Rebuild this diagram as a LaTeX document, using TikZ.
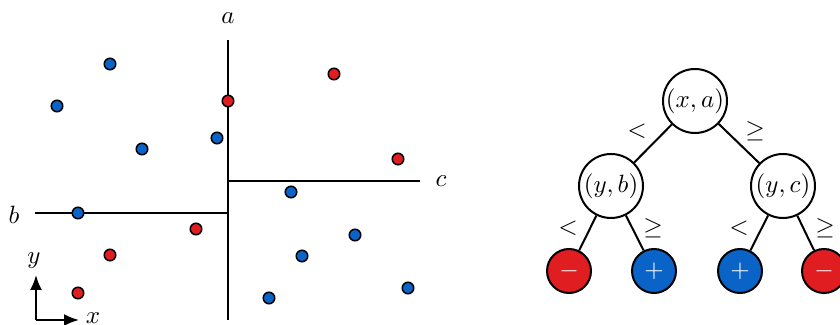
\documentclass[tikz,border=0pt]{standalone}
\usetikzlibrary{positioning, arrows.meta}

\definecolor{dotblue}{HTML}{0A64C8}
\definecolor{dotred}{HTML}{E01E22}

\begin{document}
\begin{tikzpicture}[
    x=0.4pt, y=-0.4pt,
    dot/.style={circle, draw, line width=0.6pt, inner sep=0pt, minimum size=4.6pt},
    bluedot/.style={dot, fill=dotblue},
    reddot/.style={dot, fill=dotred},
    split/.style={line width=0.8pt},
    axis/.style={-{Latex[length=6pt, width=4.8pt]}, line width=0.8pt},
    test/.style={circle, draw, line width=0.8pt, inner sep=0pt, minimum size=25.6pt, fill=white},
    leaf/.style={circle, draw, line width=0.8pt, inner sep=0pt, minimum size=17.6pt, text=white},
    branch/.style={line width=0.8pt}
]
\useasboundingbox (0,0) rectangle (840,325);

% Splitting lines
\coordinate (atop) at (228,40);
\coordinate (abot) at (228,320);
\coordinate (bleft) at (35,213);
\coordinate (bright) at (228,213);
\coordinate (cleft) at (228,181);
\coordinate (cright) at (420,181);
\draw[split] (atop) -- (abot);
\draw[split] (bleft) -- (bright);
\draw[split] (cleft) -- (cright);
\node (alabel) at (228,18) {$a$};
\node (blabel) at (14,215) {$b$};
\node (clabel) at (441,181) {$c$};

% Data points
\foreach \px/\py [count=\i] in {110/64, 57/106, 142/149, 217/138, 291/192,
    78/213, 355/235, 302/256, 269/298, 408/288} {
    \node[bluedot] (pos\i) at (\px,\py) {};
}
\foreach \px/\py [count=\i] in {334/74, 228/101, 398/159, 196/229, 110/255, 78/293} {
    \node[reddot] (neg\i) at (\px,\py) {};
}

% Axes
\coordinate (origin) at (36,320);
\coordinate (yend) at (36,275);
\coordinate (xend) at (79,320);
\draw[axis] (origin) -- (yend);
\draw[axis] (origin) -- (xend);
\node (ylabel) at (34,261) {$y$};
\node (xlabel) at (93,318) {$x$};

% Decision tree
\node[test] (root) at (695,101) {$(x,a)$};
\node[test] (left) at (611,186) {$(y,b)$};
\node[test] (right) at (783,186) {$(y,c)$};
\node[leaf, fill=dotred] (leaf1) at (569,271) {$-$};
\node[leaf, fill=dotblue] (leaf2) at (654,271) {$+$};
\node[leaf, fill=dotblue] (leaf3) at (740,271) {$+$};
\node[leaf, fill=dotred] (leaf4) at (824,271) {$-$};

\draw[branch] (root) -- (left);
\draw[branch] (root) -- (right);
\draw[branch] (left) -- (leaf1);
\draw[branch] (left) -- (leaf2);
\draw[branch] (right) -- (leaf3);
\draw[branch] (right) -- (leaf4);

% Branch labels
\node (lt1) at (637,131) {$<$};
\node (ge1) at (755,131) {$\geq$};
\node (lt2) at (568,228) {$<$};
\node (ge2) at (653,228) {$\geq$};
\node (lt3) at (739,228) {$<$};
\node (ge3) at (825,228) {$\geq$};

\end{tikzpicture}
\end{document}
